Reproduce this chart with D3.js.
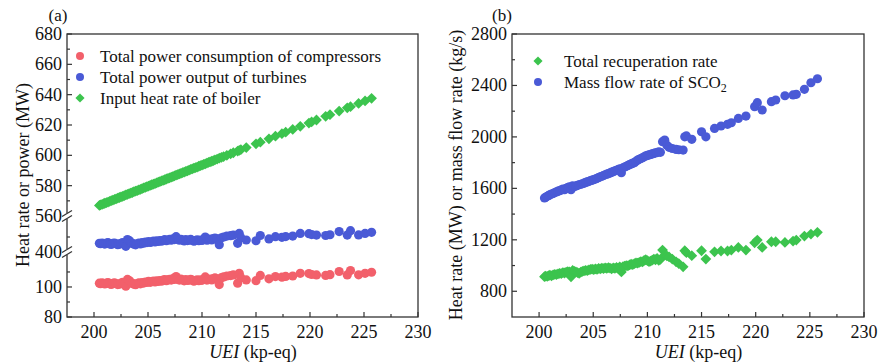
<!DOCTYPE html>
<html>
<head>
<meta charset="utf-8">
<script src="https://cdn.jsdelivr.net/npm/d3@7"></script>
<style>
  body { margin: 0; background: #fff; }
  text { font-family: "Liberation Serif", "Times New Roman", serif; fill: #111; }
</style>
</head>
<body>
<script>
// UEI (kp-eq), shared by every series
const uei = [
  200.5, 200.6, 200.75, 200.9, 201.0, 201.15, 201.3, 201.45, 201.6, 201.75,
  201.9, 202.05, 202.2, 202.35, 202.5, 202.65, 202.8, 202.95, 203.1, 203.25,
  203.4, 203.55, 203.7, 203.85, 204.0, 204.15, 204.3, 204.45, 204.6, 204.75,
  204.9, 205.05, 205.2, 205.35, 205.5, 205.65, 205.8, 205.95, 206.1, 206.25,
  206.4, 206.55, 206.7, 206.85, 207.0, 207.15, 207.3, 207.45, 207.6, 207.75,
  207.9, 208.05, 208.2, 208.35, 208.5, 208.65, 208.8, 208.95, 209.1, 209.25,
  209.4, 209.55, 209.7, 209.85, 210.0, 210.15, 210.3, 210.45, 210.6, 210.75,
  210.9, 211.05, 211.2, 211.4, 211.6, 211.8, 212.0, 212.3, 212.65, 212.9,
  213.3, 213.45, 213.6, 214.1, 215.0, 215.4, 216.2, 216.8, 217.4, 217.75,
  218.4, 219.1, 219.9, 220.15, 220.6, 221.45, 221.85, 222.7, 223.45, 223.75,
  224.5, 225.1, 225.7
]

// panel (a), MW
const compressors = [
  102.5, 102.2, 102.7, 102.3, 102.0, 102.6, 102.9, 102.1, 101.7, 102.4,
  102.7, 102.2, 101.6, 101.9, 102.5, 103.0, 101.8, 100.5, 105.0, 104.3,
  103.2, 102.4, 101.9, 101.5, 102.2, 102.7, 102.1, 102.9, 102.6, 103.3,
  103.0, 103.7, 103.1, 103.5, 103.9, 103.4, 104.1, 103.7, 104.3, 103.9,
  104.5, 104.9, 104.2, 104.7, 105.1, 104.6, 105.5, 105.0, 106.9, 105.3,
  104.6, 105.2, 104.7, 104.1, 104.9, 104.3, 104.6, 105.1, 104.5, 103.9,
  104.3, 104.8, 104.2, 104.7, 104.4, 105.0, 106.7, 104.6, 104.9, 105.3,
  104.7, 105.6, 106.0, 105.4, 101.6, 106.2, 106.7, 107.3, 107.6, 108.0,
  102.5, 109.1, 106.2, 104.7, 104.2, 107.7, 105.4, 106.9, 106.5, 107.0,
  107.3, 109.1, 108.9, 108.3, 108.0, 107.7, 108.2, 110.3, 108.0, 110.9,
  108.1, 109.1, 109.8
]
const turbines = [
  405.8, 405.5, 406.0, 405.6, 405.3, 405.9, 406.2, 405.4, 405.0, 405.7,
  406.0, 405.5, 404.9, 405.2, 405.8, 406.3, 405.1, 403.8, 408.3, 407.6,
  406.5, 405.7, 405.2, 404.8, 405.5, 406.0, 405.4, 406.2, 405.9, 406.6,
  406.3, 407.0, 406.4, 406.8, 407.2, 406.7, 407.4, 407.0, 407.6, 407.2,
  407.8, 408.2, 407.5, 408.0, 408.4, 407.9, 408.8, 408.3, 410.2, 408.6,
  407.9, 408.5, 408.0, 407.4, 408.2, 407.6, 407.9, 408.4, 407.8, 407.2,
  407.6, 408.1, 407.5, 408.0, 407.7, 408.3, 410.0, 407.9, 408.2, 408.6,
  408.0, 408.9, 409.3, 408.7, 404.9, 409.5, 410.0, 410.6, 410.9, 411.3,
  405.8, 412.4, 409.5, 408.0, 407.5, 411.0, 408.7, 410.2, 409.8, 410.3,
  410.6, 412.4, 412.2, 411.6, 411.3, 411.0, 411.5, 413.6, 411.3, 414.2,
  411.4, 412.4, 413.1
]
const boiler = [
  567.0, 567.3, 567.7, 568.1, 568.4, 568.8, 569.2, 569.7, 570.1, 570.5,
  570.9, 571.3, 571.8, 572.2, 572.6, 573.0, 573.4, 573.9, 574.3, 574.7,
  575.1, 575.5, 576.0, 576.4, 576.8, 577.2, 577.6, 578.1, 578.5, 578.9,
  579.3, 579.7, 580.2, 580.6, 581.0, 581.4, 581.8, 582.3, 582.7, 583.1,
  583.5, 583.9, 584.4, 584.8, 585.2, 585.6, 586.0, 586.5, 586.9, 587.3,
  587.7, 588.1, 588.6, 589.0, 589.4, 589.8, 590.2, 590.7, 591.1, 591.5,
  591.9, 592.3, 592.8, 593.2, 593.6, 594.0, 594.4, 594.9, 595.3, 595.7,
  596.1, 596.5, 597.0, 597.5, 598.1, 598.6, 599.2, 600.0, 601.0, 601.7,
  602.8, 603.2, 603.7, 605.1, 607.6, 608.7, 610.9, 612.6, 614.3, 615.3,
  617.1, 619.1, 621.3, 622.0, 623.3, 625.7, 626.8, 629.2, 631.3, 632.1,
  634.2, 635.9, 637.6
]

// panel (b)
const recuperation = [
  913, 918, 915, 922, 925, 920, 928, 932, 930, 936,
  940, 938, 945, 942, 948, 952, 950, 912, 962, 955,
  950, 945, 940, 948, 955, 958, 962, 960, 966, 970,
  972, 968, 975, 970, 978, 974, 980, 976, 982, 978,
  984, 980, 975, 982, 978, 985, 980, 990, 950, 992,
  995, 1000, 998, 1005, 1010, 1008, 1015, 1020, 1018, 1025,
  1030, 1028, 1040, 1045, 1038, 1030, 1035, 1042, 1050, 1045,
  1055, 1040, 1048, 1120, 1081, 1075, 1068, 1050, 1029, 1015,
  990, 1115, 1100, 1077, 1115, 1050, 1107, 1113, 1113, 1120,
  1141, 1120, 1177, 1198, 1141, 1185, 1185, 1180, 1190, 1198,
  1229, 1245, 1258
]
const massFlow = [
  1525, 1530, 1538, 1545, 1550, 1556, 1560, 1568, 1572, 1578,
  1582, 1588, 1594, 1590, 1600, 1606, 1612, 1590, 1620, 1614,
  1618, 1624, 1628, 1632, 1636, 1640, 1646, 1650, 1655, 1660,
  1664, 1668, 1672, 1678, 1684, 1690, 1694, 1700, 1706, 1710,
  1714, 1720, 1726, 1730, 1736, 1740, 1746, 1752, 1722, 1760,
  1766, 1772, 1778, 1784, 1790, 1796, 1800, 1810, 1820, 1826,
  1832, 1838, 1845, 1852, 1856, 1860, 1864, 1868, 1872, 1876,
  1878, 1884, 1880, 1963, 1975, 1935, 1919, 1910, 1903, 1900,
  1898, 2001, 2008, 1981, 2040, 2001, 2066, 2085, 2098, 2110,
  2144, 2162, 2235, 2266, 2209, 2274, 2287, 2320, 2326, 2331,
  2370, 2421, 2452
]

const xTicks = [200, 205, 210, 215, 220, 225, 230]
const leftTickLabels = [80, 100, 400, 560, 580, 600, 620, 640, 660, 680]
const leftMinor = [90, 110, 410, 570, 590, 610, 630, 650, 670]
const rightTicks = [800, 1200, 1600, 2000, 2400, 2800]
const rightMinor = [1000, 1400, 1800, 2200, 2600]

const red = '#f2606b'
const blue = '#4a5ad6'
const green = '#3cc44e'
const axisCol = '#333'

const W = 880, H = 363
const svg = d3.select('body').append('svg')
  .attr('width', W).attr('height', H)

const plotTop = 34, plotBottom = 317

// ---------- panel (a) ----------
const xa = d3.scaleLinear().domain([197.5, 230]).range([67, 418])
// broken y axis: three linear pieces
const pieces = [
  d3.scaleLinear().domain([80, 123.3]).range([317, 252]),
  d3.scaleLinear().domain([400, 424]).range([252, 216]),
  d3.scaleLinear().domain([560, 680]).range([216, 34])
]
const ya = v => {
  const p = pieces.find(s => v >= s.domain()[0] - 1e-6 && v <= s.domain()[1] + 1e-6) || pieces[0]
  return p(v)
}

function frame(g, x0, x1) {
  g.append('rect')
    .attr('x', x0).attr('y', plotTop)
    .attr('width', x1 - x0).attr('height', plotBottom - plotTop)
    .attr('fill', 'none').attr('stroke', axisCol).attr('stroke-width', 1.3)
}

function xAxis(g, x) {
  const minor = xTicks.slice(0, -1).map(t => t + 2.5)
  g.selectAll('.xt').data(xTicks).enter().append('line')
    .attr('x1', d => x(d)).attr('x2', d => x(d))
    .attr('y1', plotBottom).attr('y2', plotBottom - 5)
    .attr('stroke', axisCol).attr('stroke-width', 1.2)
  g.selectAll('.xm').data(minor).enter().append('line')
    .attr('x1', d => x(d)).attr('x2', d => x(d))
    .attr('y1', plotBottom).attr('y2', plotBottom - 3)
    .attr('stroke', axisCol).attr('stroke-width', 1.2)
  g.selectAll('.xl').data(xTicks).enter().append('text')
    .attr('x', d => x(d)).attr('y', 338)
    .attr('text-anchor', 'middle').attr('font-size', 18)
    .text(d => d)
  const t = g.append('text')
    .attr('x', (x(200) + x(230)) / 2 - 3).attr('y', 358)
    .attr('text-anchor', 'middle').attr('font-size', 18)
  t.append('tspan').attr('font-style', 'italic').text('UEI')
  t.append('tspan').text(' (kp-eq)')
}

function yTicks(g, x0, y, major, minor) {
  g.selectAll('.yt').data(major).enter().append('line')
    .attr('x1', x0).attr('x2', x0 + 5)
    .attr('y1', d => y(d)).attr('y2', d => y(d))
    .attr('stroke', axisCol).attr('stroke-width', 1.2)
  g.selectAll('.ym').data(minor).enter().append('line')
    .attr('x1', x0).attr('x2', x0 + 3)
    .attr('y1', d => y(d)).attr('y2', d => y(d))
    .attr('stroke', axisCol).attr('stroke-width', 1.2)
  g.selectAll('.yl').data(major).enter().append('text')
    .attr('x', x0 - 5).attr('y', d => y(d) + 6)
    .attr('text-anchor', 'end').attr('font-size', 18)
    .text(d => d)
}

const diamond = d3.symbol().type(d3.symbolSquare).size(58)

function circles(g, x, y, vals, col, r) {
  g.append('g').selectAll('circle')
    .data(uei.map((u, i) => [u, vals[i]]))
    .enter().append('circle')
    .attr('cx', d => x(d[0])).attr('cy', d => y(d[1]))
    .attr('r', r).attr('fill', col)
}
function diamonds(g, x, y, vals, col) {
  g.append('g').selectAll('path')
    .data(uei.map((u, i) => [u, vals[i]]))
    .enter().append('path')
    .attr('d', diamond)
    .attr('transform', d => `translate(${x(d[0])},${y(d[1])}) rotate(45)`)
    .attr('fill', col)
}

const ga = svg.append('g')
circles(ga, xa, ya, compressors, red, 4.6)
circles(ga, xa, ya, turbines, blue, 4.6)
diamonds(ga, xa, ya, boiler, green)
frame(ga, 67, 418)
xAxis(ga, xa)
yTicks(ga, 67, ya, leftTickLabels, leftMinor)

// break marks on the left axis
;[ya(560), ya(400)].forEach(yb => {
  ga.append('rect').attr('x', 62).attr('y', yb - 3).attr('width', 10).attr('height', 6).attr('fill', '#fff')
  ;[-2.5, 2.5].forEach(o => {
    ga.append('line')
      .attr('x1', 62).attr('y1', yb + o + 3)
      .attr('x2', 72).attr('y2', yb + o - 3)
      .attr('stroke', axisCol).attr('stroke-width', 1.2)
  })
})

ga.append('text').attr('x', 23).attr('y', 175)
  .attr('transform', 'rotate(-90,23,175)')
  .attr('dy', '0.35em')
  .attr('text-anchor', 'middle').attr('font-size', 18)
  .text('Heat rate or power (MW)')

ga.append('text').attr('x', 58).attr('y', 21)
  .attr('text-anchor', 'middle').attr('font-size', 17).text('(a)')

// legend (a)
const legA = [
  ['Total power consumption of compressors', red, 'c'],
  ['Total power output of turbines', blue, 'c'],
  ['Input heat rate of boiler', green, 'd']
]
legA.forEach((l, i) => {
  const cy = 56 + i * 21
  if (l[2] === 'c') ga.append('circle').attr('cx', 80).attr('cy', cy).attr('r', 4).attr('fill', l[1])
  else ga.append('path').attr('d', d3.symbol().type(d3.symbolSquare).size(42)).attr('transform', `translate(80,${cy}) rotate(45)`).attr('fill', l[1])
  ga.append('text').attr('x', 100).attr('y', cy + 5.5).attr('font-size', 17).text(l[0])
})

// ---------- panel (b) ----------
const xb = d3.scaleLinear().domain([197.5, 230]).range([512, 864])
const yb = d3.scaleLinear().domain([600, 2800]).range([plotBottom, plotTop])

const gb = svg.append('g')
diamonds(gb, xb, yb, recuperation, green)
circles(gb, xb, yb, massFlow, blue, 4.6)
frame(gb, 512, 864)
xAxis(gb, xb)
yTicks(gb, 512, yb, rightTicks, rightMinor)

gb.append('text').attr('x', 456).attr('y', 175)
  .attr('transform', 'rotate(-90,456,175)')
  .attr('dy', '0.35em')
  .attr('text-anchor', 'middle').attr('font-size', 18)
  .text('Heat rate (MW) or mass flow rate (kg/s)')

gb.append('text').attr('x', 502).attr('y', 21)
  .attr('text-anchor', 'middle').attr('font-size', 17).text('(b)')

gb.append('path').attr('d', d3.symbol().type(d3.symbolSquare).size(42))
  .attr('transform', 'translate(538,61) rotate(45)').attr('fill', green)
gb.append('text').attr('x', 564).attr('y', 66.5).attr('font-size', 17).text('Total recuperation rate')
gb.append('circle').attr('cx', 538).attr('cy', 82).attr('r', 4).attr('fill', blue)
const mt = gb.append('text').attr('x', 564).attr('y', 87.5).attr('font-size', 17)
mt.append('tspan').text('Mass flow rate of SCO')
mt.append('tspan').attr('font-size', 12).attr('dy', 4).text('2')
</script>
</body>
</html>
